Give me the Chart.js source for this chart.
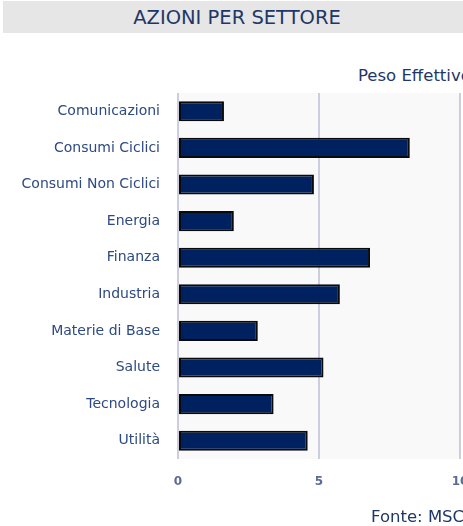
<!DOCTYPE html>
<html>
<head>
<meta charset="utf-8">
<script src="https://cdn.jsdelivr.net/npm/chart.js@4"></script>
<style>
  html, body { margin:0; padding:0; width:463px; height:526px; overflow:hidden; background:#fff; }
  #wrap { position:absolute; left:0; top:0; width:560px; height:526px; }
  #banner { position:absolute; left:3px; top:1px; width:468px; height:32px; background:#e6e6e6;
            font-family:"DejaVu Sans",sans-serif; font-size:19.5px; color:#1f3768;
            text-align:center; line-height:33px; }
  #peso { position:absolute; left:358px; top:66px; font-family:"DejaVu Sans",sans-serif;
          font-size:16.5px; color:#1f3768; white-space:nowrap; }
  #fonte { position:absolute; left:371px; top:507px; font-family:"DejaVu Sans",sans-serif;
           font-size:16.5px; color:#1f3768; white-space:nowrap; }
  canvas { position:absolute; left:0; top:0; }
</style>
</head>
<body>
<div id="wrap">
  <div id="banner">AZIONI PER SETTORE</div>
  <div id="peso">Peso Effettivo (%)</div>
  <canvas id="c" width="560" height="526"></canvas>
  <div id="fonte">Fonte: MSCI</div>
</div>
<script>
const categories = ["Comunicazioni","Consumi Ciclici","Consumi Non Ciclici","Energia","Finanza","Industria","Materie di Base","Salute","Tecnologia","Utilità"];
const pesoEffettivo = [1.63, 8.22, 4.82, 1.98, 6.81, 5.74, 2.83, 5.16, 3.39, 4.60];
const xTicks = [0, 5, 10];

const plotBg = {
  id: 'plotBg',
  beforeDraw(chart) {
    const {ctx, chartArea:a} = chart;
    ctx.save();
    ctx.fillStyle = '#f9f9f9';
    ctx.fillRect(a.left, a.top, a.right - a.left, a.bottom - a.top);
    ctx.restore();
  }
};

new Chart(document.getElementById('c'), {
  type: 'bar',
  data: {
    labels: categories,
    datasets: [{
      label: 'Peso Effettivo',
      data: pesoEffettivo,
      backgroundColor: '#00215f',
      borderColor: '#0a0a0a',
      borderWidth: 2,
      borderSkipped: false,
      barPercentage: 0.55,
      categoryPercentage: 1.0
    }]
  },
  options: {
    indexAxis: 'y',
    responsive: false,
    animation: false,
    layout: { padding: { left: 0, top: 93, right: 100, bottom: 0 } },
    plugins: { legend: { display: false }, tooltip: { enabled: false } },
    scales: {
      x: {
        min: 0, max: 10,
        afterBuildTicks(scale) { scale.ticks = xTicks.map(v => ({value: v})); },
        afterFit(scale) { scale.height = 67; },
        grid: { color: '#cdcde0', lineWidth: 2, drawTicks: false },
        border: { display: false },
        ticks: { padding: 16, color: '#5a6b98', font: { family: 'DejaVu Sans', size: 12, weight: 'bold' } }
      },
      y: {
        afterFit(scale) { scale.width = 178; },
        grid: { display: false, drawTicks: false },
        border: { display: false },
        ticks: { padding: 18, color: '#2d4a82', font: { family: 'DejaVu Sans', size: 14 } }
      }
    }
  },
  plugins: [plotBg]
});
</script>
</body>
</html>
